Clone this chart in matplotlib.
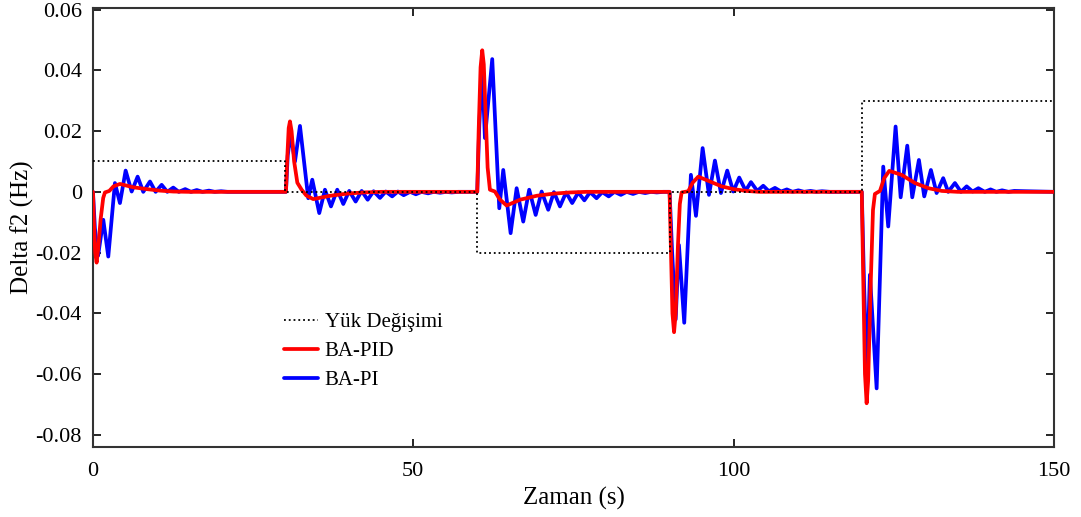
import matplotlib
matplotlib.use("Agg")
import matplotlib.pyplot as plt

plt.rcParams['font.family'] = ['Liberation Serif', 'DejaVu Serif']

# Load change (step signal)
load_t = [0, 30, 30, 60, 60, 90, 90, 120, 120, 150]
load_y = [0.01, 0.01, 0.0, 0.0, -0.02, -0.02, 0.0, 0.0, 0.03, 0.03]

# BA-PID response
pid_t = [0, 0.15, 0.35, 0.57, 0.8, 1.2, 1.6, 1.87, 2.55, 3.2, 4.21, 6.29, 8.38, 10.46, 12.53, 15,
         30.0, 30.12, 30.3, 30.55, 30.75, 31.0, 31.4, 31.9, 32.57, 33.3, 34.38, 36.99, 39.6, 42.19, 45,
         59.98, 60.2, 60.5, 60.76, 61.0, 61.3, 61.6, 61.96, 62.74, 63.5, 64.57, 66.65, 69.25, 71.84, 74.45, 77,
         90.0, 90.2, 90.45, 90.7, 90.95, 91.3, 91.6, 91.88, 92.92, 93.6, 94.48, 96.3, 98.13, 99.94, 102.0, 104,
         120.0, 120.2, 120.5, 120.76, 121.0, 121.4, 121.75, 122.05, 122.84, 123.5, 124.29, 126.2, 128.3, 130.4, 132.5, 135,
         150]
pid_y = [0, -0.010, -0.020, -0.0233, -0.019, -0.009, -0.002, -0.0002, 0.0003, 0.0018, 0.0026, 0.0015, 0.0009, 0.0004, 0.0001, 0,
         0.0, 0.0, 0.010, 0.021, 0.0232, 0.020, 0.010, 0.003, 0.0007, -0.0012, -0.0024, -0.0013, -0.0006, -0.0002, 0,
         0.0, 0.020, 0.041, 0.0466, 0.042, 0.025, 0.008, 0.0007, 0.0001, -0.0025, -0.0045, -0.0026, -0.0013, -0.0006, -0.0002, 0,
         0.0, -0.018, -0.040, -0.0462, -0.040, -0.018, -0.004, -0.0002, 0.0002, 0.0030, 0.0050, 0.0034, 0.0018, 0.0009, 0.0003, 0,
         0.0, -0.025, -0.060, -0.0696, -0.062, -0.030, -0.006, -0.0007, 0.0003, 0.0045, 0.0069, 0.0056, 0.0029, 0.0012, 0.0003, 0,
         0]

# BA-PI response
pi_t = [0, 0.3, 0.8, 1.61, 2.39, 3.43, 4.21, 5.10, 6.04, 6.97, 7.85, 8.9, 9.78, 10.72, 11.6, 12.53, 13.4, 14.4, 15.3,
        16.2, 17.1, 18.1, 19.0, 20.0, 21.0,
        30.12, 30.4, 30.85, 31.53, 32.31, 33.6, 34.23, 35.32, 36.21, 37.15, 38.13, 39.07, 40.0, 41.0, 41.94, 42.88,
        43.8, 44.8, 45.7, 46.7, 47.6, 48.5, 49.5, 50.4, 51.3, 52.3, 53.2, 54.2, 55.1, 56.0, 57.0,
        59.98, 60.3, 60.75, 61.18, 62.32, 63.42, 64.04, 65.19, 66.13, 67.16, 68.09, 69.1, 70.03, 71.06, 71.95, 72.89,
        73.85, 74.8, 75.75, 76.7, 77.6, 78.6, 79.5, 80.5, 81.4, 82.4, 83.3, 84.3, 85.2, 86.2, 87.1, 88.0, 89.0,
        90.0, 90.4, 90.95, 91.46, 92.29, 93.33, 94.12, 95.16, 96.15, 97.08, 98.02, 99.0, 99.94, 100.87, 101.87, 102.7,
        103.69, 104.62, 105.5, 106.45, 107.4, 108.3, 109.2, 110.1, 111.0, 112.0, 112.9, 113.8, 115.0,
        120.0, 120.35, 120.8, 121.27, 122.32, 123.35, 124.13, 125.28, 126.07, 127.1, 127.88, 128.92, 129.75, 130.79,
        131.68, 132.71, 133.49, 134.54, 135.48, 136.37, 137.3, 138.2, 139.2, 140.1, 141.0, 141.9, 142.9, 143.8, 145.6,
        150]
pi_y = [0, -0.012, -0.021, -0.0092, -0.0213, 0.0029, -0.0037, 0.0070, 0.0001, 0.0050, 0.0, 0.0034, 0.0, 0.0023, 0.0, 0.0014, 0.0, 0.0009, 0.0,
        0.0006, 0.0, 0.0004, 0.0, 0.0002, 0.0,
        0.0, 0.012, 0.019, 0.0100, 0.0217, -0.0021, 0.0040, -0.0070, 0.0007, -0.0048, 0.0007, -0.0040, 0.0003, -0.0032, 0.0003, -0.0026,
        0.0002, -0.0020, 0.0001, -0.0015, 0.0001, -0.0011, 0.0, -0.0008, 0.0, -0.0005, 0.0, -0.0003, 0.0, -0.0002, 0.0,
        0.0, 0.022, 0.041, 0.0177, 0.0437, -0.0054, 0.0072, -0.0136, 0.0012, -0.0098, 0.0007, -0.0076, 0.0001, -0.0059, -0.0001, -0.0048,
        -0.0002, -0.0037, -0.0002, -0.0028, -0.0001, -0.0021, -0.0001, -0.0015, 0.0, -0.0010, 0.0, -0.0007, 0.0, -0.0004, 0.0, -0.0002, 0.0,
        0.0, -0.020, -0.042, -0.0175, -0.0431, 0.0056, -0.0079, 0.0144, -0.0010, 0.0103, -0.0004, 0.0070, 0.0001, 0.0047, 0.0004, 0.0032,
        0.0003, 0.0020, 0.0002, 0.0013, 0.0001, 0.0008, 0.0, 0.0005, 0.0, 0.0003, 0.0, 0.0002, 0.0,
        0.0, -0.030, -0.061, -0.0273, -0.0647, 0.0083, -0.0114, 0.0215, -0.0018, 0.0152, -0.0018, 0.0105, -0.0015, 0.0072,
        -0.0004, 0.0045, 0.0, 0.0029, 0.0, 0.0018, 0.0001, 0.0012, 0.0, 0.0008, 0.0, 0.0005, 0.0, 0.0003, 0.0002,
        0.0]

x_ticks = [0, 50, 100, 150]
y_ticks = [-0.08, -0.06, -0.04, -0.02, 0, 0.02, 0.04, 0.06]
y_tick_labels = ['-0.08', '-0.06', '-0.04', '-0.02', '0', '0.02', '0.04', '0.06']

fig = plt.figure(figsize=(10.81, 5.17), dpi=100)
ax = fig.add_axes([0.086, 0.1354, 0.889, 0.849])

l0, = ax.plot(load_t, load_y, color='black', linestyle=':', linewidth=1.3, zorder=4, label='Yük Değişimi')
l1, = ax.plot(pid_t, pid_y, color='#ff0000', linewidth=2.7, zorder=3, label='BA-PID',
              solid_joinstyle='round', solid_capstyle='round')
l2, = ax.plot(pi_t, pi_y, color='#0000ff', linewidth=2.7, zorder=2, label='BA-PI',
              solid_joinstyle='round', solid_capstyle='round')

ax.set_xlim(0, 150)
ax.set_ylim(-0.084, 0.0605)
ax.set_xticks(x_ticks)
ax.set_yticks(y_ticks)
ax.set_yticklabels(y_tick_labels)
ax.tick_params(direction='in', top=True, right=True, labelsize=16, length=6, width=1.2, pad=8)
ax.tick_params(axis='x', pad=11)
for s in ax.spines.values():
    s.set_linewidth(1.5)
    s.set_color('#333333')

ax.set_xlabel('Zaman (s)', fontsize=18, labelpad=4)
ax.set_ylabel('Delta f2 (Hz)', fontsize=18, labelpad=1)

ax.legend(handles=[l0, l1, l2], loc='upper left', bbox_to_anchor=(0.19, 0.325), frameon=False,
          fontsize=15, handlelength=1.65, handletextpad=0.3, labelspacing=0.45, borderaxespad=0)

fig.savefig('out.png', dpi=100)
